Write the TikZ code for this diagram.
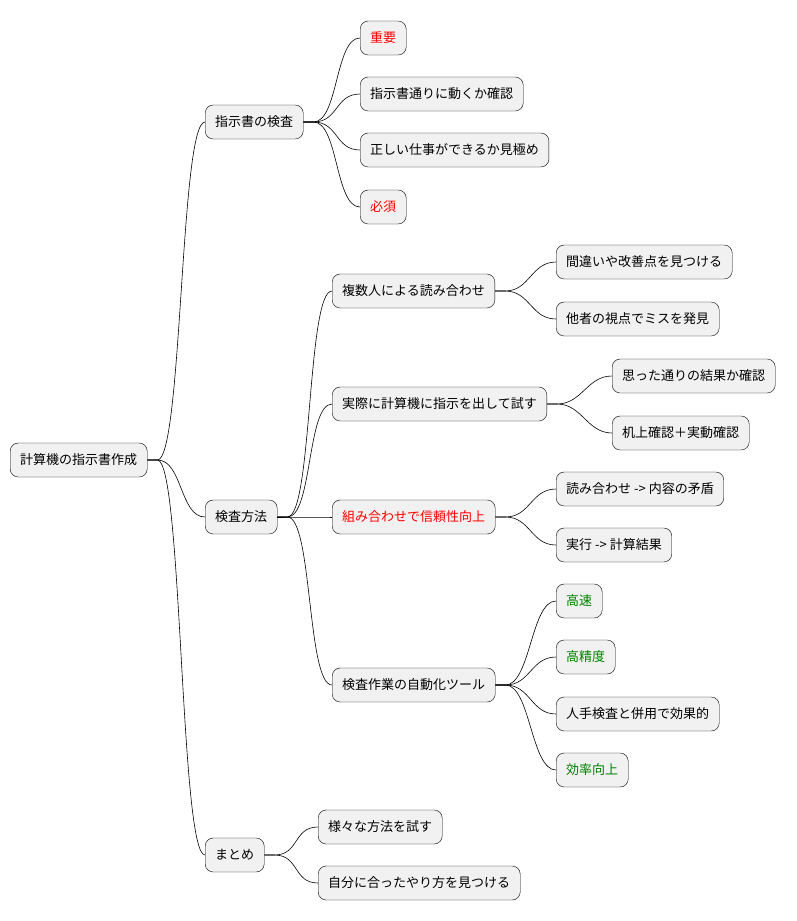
\documentclass[tikz,border=0pt]{standalone}
\usepackage{fontspec}
\setmainfont{Noto Sans CJK JP}
\usetikzlibrary{positioning}
\definecolor{boxfill}{HTML}{F1F1F1}
\definecolor{okgreen}{HTML}{008000}
\tikzset{
  box/.style={draw=black, fill=boxfill, rounded corners=8pt, anchor=west,
    minimum height=34pt, inner xsep=10pt, inner ysep=0pt,
    font=\fontsize{13}{15}\selectfont},
  link/.style={draw=black, line width=0.6pt}
}
\newcommand{\branch}[2]{\draw[link] (#1.east) -- ++(10,0) .. controls +(25,0) and +(-25,0) .. (#2.west);}

\begin{document}
\begin{tikzpicture}[x=1pt,y=-1pt]
\useasboundingbox (0,0) rectangle (796,921);

    % root and first level
    \node[box] (root) at (10,460) {計算機の指示書作成};
    \node[box] (check) at (205,122) {指示書の検査};
    \node[box] (method) at (205,517) {検査方法};
    \node[box] (summary) at (205,855) {まとめ};

    % under check
    \node[box, text=red] (imp) at (360,38) {重要};
    \node[box] (runs) at (360,94) {指示書通りに動くか確認};
    \node[box] (right) at (360,150) {正しい仕事ができるか見極め};
    \node[box, text=red] (must) at (360,207) {必須};

    % under method
    \node[box] (read) at (332,291) {複数人による読み合わせ};
    \node[box] (try) at (332,404) {実際に計算機に指示を出して試す};
    \node[box, text=red] (combo) at (332,517) {組み合わせで信頼性向上};
    \node[box] (tool) at (332,685) {検査作業の自動化ツール};

    \node[box] (find) at (556,262) {間違いや改善点を見つける};
    \node[box] (other) at (556,319) {他者の視点でミスを発見};
    \node[box] (expect) at (612,376) {思った通りの結果か確認};
    \node[box] (desk) at (612,433) {机上確認＋実動確認};
    \node[box] (contra) at (556,489) {読み合わせ -> 内容の矛盾};
    \node[box] (result) at (556,545) {実行 -> 計算結果};
    \node[box, text=okgreen] (fast) at (556,601) {高速};
    \node[box, text=okgreen] (prec) at (556,657) {高精度};
    \node[box] (hand) at (556,714) {人手検査と併用で効果的};
    \node[box, text=okgreen] (eff) at (556,770) {効率向上};

    % under summary
    \node[box] (various) at (318,827) {様々な方法を試す};
    \node[box] (own) at (318,883) {自分に合ったやり方を見つける};

    \foreach \c in {check,method,summary} {\branch{root}{\c}}
    \foreach \c in {imp,runs,right,must} {\branch{check}{\c}}
    \foreach \c in {read,try,combo,tool} {\branch{method}{\c}}
    \foreach \c in {find,other} {\branch{read}{\c}}
    \foreach \c in {expect,desk} {\branch{try}{\c}}
    \foreach \c in {contra,result} {\branch{combo}{\c}}
    \foreach \c in {fast,prec,hand,eff} {\branch{tool}{\c}}
    \foreach \c in {various,own} {\branch{summary}{\c}}

\end{tikzpicture}
\end{document}
